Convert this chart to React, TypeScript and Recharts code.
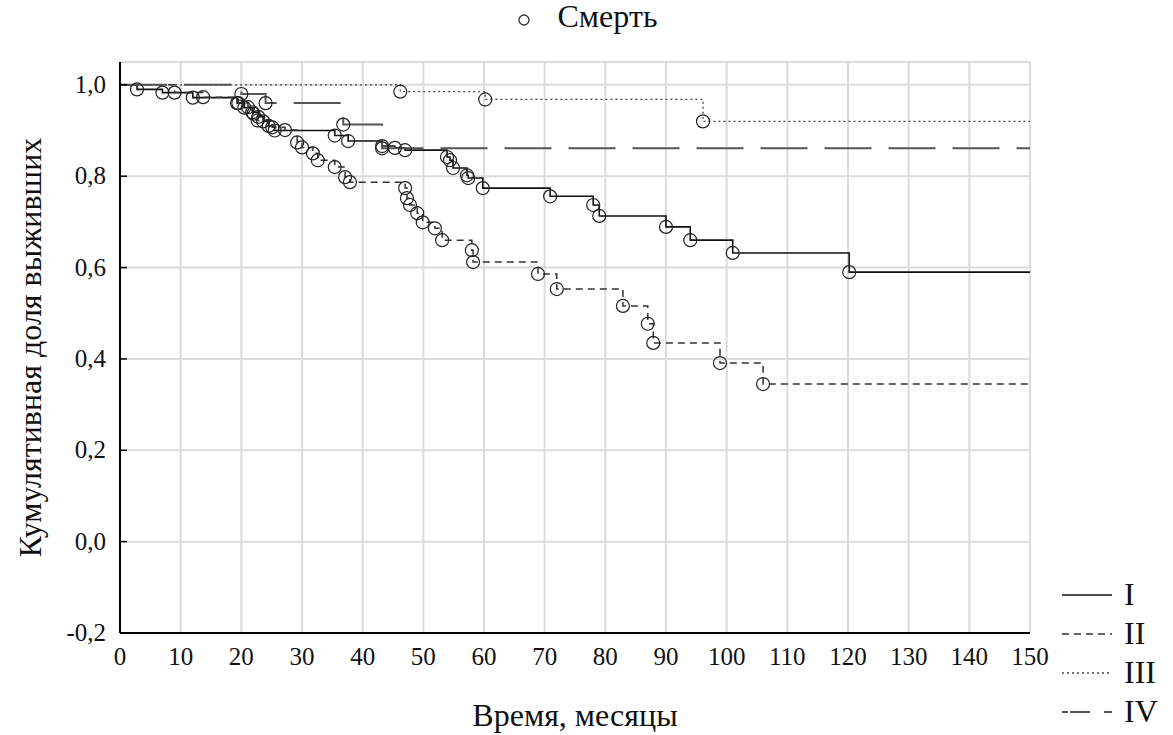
import React from 'react';
import { ComposedChart, Line, Scatter, XAxis, YAxis, CartesianGrid } from 'recharts';

// ---- data (months, cumulative survival) ----
const X_TICKS = [0, 10, 20, 30, 40, 50, 60, 70, 80, 90, 100, 110, 120, 130, 140, 150];
const Y_TICKS = [-0.2, 0, 0.2, 0.4, 0.6, 0.8, 1.0];

const I_T = [2.8, 7, 12, 19.3, 20.5, 21.8, 22.8, 23.6, 24.5, 25.5, 35.4, 37.6, 43.2, 45.3, 47, 53.9, 54.4, 54.9, 57.2, 57.4, 59.8, 70.9, 78, 79, 90, 94, 101, 120.2];
const I_S = [0.99, 0.983, 0.972, 0.96, 0.95, 0.94, 0.93, 0.92, 0.91, 0.9, 0.889, 0.877, 0.866, 0.862, 0.857, 0.842, 0.835, 0.818, 0.802, 0.796, 0.774, 0.756, 0.737, 0.713, 0.689, 0.66, 0.632, 0.59];

const II_T = [9, 13.7, 19.5, 21.1, 22, 22.7, 25.1, 27.2, 29.2, 30, 31.8, 32.6, 35.4, 37.1, 37.9, 47, 47.3, 47.8, 49, 49.9, 51.9, 53.1, 58, 58.2, 68.9, 72, 82.9, 87, 87.9, 98.9, 106];
const II_S = [0.983, 0.973, 0.96, 0.951, 0.937, 0.922, 0.907, 0.901, 0.874, 0.863, 0.85, 0.835, 0.82, 0.798, 0.787, 0.774, 0.752, 0.737, 0.719, 0.699, 0.686, 0.66, 0.638, 0.612, 0.586, 0.553, 0.516, 0.477, 0.435, 0.391, 0.345];

const III_T = [46.2, 60.2, 96.1];
const III_S = [0.985, 0.968, 0.92];

const IV_T = [20, 24, 36.8, 43.2];
const IV_S = [0.98, 0.96, 0.913, 0.861];

const SERIES_NAMES = ['I', 'II', 'III', 'IV'];
const DEATH_LABEL = 'Смерть';
const X_TITLE = 'Время, месяцы';
const Y_TITLE = 'Кумулятивная доля выживших';

const X_MAX = 150;

function steps(t: number[], s: number[]) {
  const pts = [{ x: 0, y: 1 }];
  t.forEach((ti, i) => pts.push({ x: ti, y: s[i] }));
  pts.push({ x: X_MAX, y: s[s.length - 1] });
  return pts;
}
function events(t: number[], s: number[]) {
  return t.map((ti, i) => ({ x: ti, y: s[i] }));
}

const dataI = steps(I_T, I_S);
const dataII = steps(II_T, II_S);
const dataIII = steps(III_T, III_S);
const dataIV = steps(IV_T, IV_S);
const deaths = [
  ...events(I_T, I_S),
  ...events(II_T, II_S),
  ...events(III_T, III_S),
  ...events(IV_T, IV_S),
];

const FONT = "'Liberation Serif', 'DejaVu Serif', serif";
const fmt = (v: number) => v.toFixed(1).replace('.', ',');

const STYLES = [
  { stroke: '#111', dash: undefined as string | undefined, width: 1.6 },
  { stroke: '#333', dash: '7 5', width: 1.5 },
  { stroke: '#444', dash: '2 3', width: 1.3 },
  { stroke: '#555', dash: '47 17', width: 2 },
];

const YTick = (props: any) => {
  const { x, y, payload } = props;
  return (
    <g>
      <line x1={x + 14} x2={x + 21} y1={y} y2={y} stroke="#000" strokeWidth={1.5} />
      <text x={x} y={y + 8} textAnchor="end" style={{ fontFamily: FONT }} fontSize={25} fill="#111">
        {fmt(payload.value)}
      </text>
    </g>
  );
};

const XTick = (props: any) => {
  const { x, y, payload } = props;
  return (
    <text x={x} y={y + 8} textAnchor="middle" style={{ fontFamily: FONT }} fontSize={25} fill="#111">
      {payload.value}
    </text>
  );
};

const Marker = (props: any) => {
  const { cx, cy } = props;
  return <circle cx={cx} cy={cy} r={6.5} fill="none" stroke="#222" strokeWidth={1.2} />;
};

export default function App() {
  return (
    <div style={{ position: 'absolute', left: 0, top: 0, width: 1173, height: 735, background: '#fff', fontFamily: FONT }}>
      <ComposedChart width={1173} height={735} margin={{ top: 62, right: 143, bottom: 0, left: 0 }}>
        <CartesianGrid stroke="#dcdcdc" strokeWidth={2} />
        <XAxis
          type="number"
          dataKey="x"
          domain={[0, X_MAX]}
          ticks={X_TICKS}
          allowDataOverflow
          height={102}
          tickSize={0}
          tickMargin={24}
          axisLine={{ stroke: '#000', strokeWidth: 2 }}
          tick={<XTick />}
          label={(p: any) => {
            const vb = p.viewBox;
            return (
              <text x={vb.x + vb.width / 2} y={vb.y + 93} textAnchor="middle" style={{ fontFamily: FONT }} fontSize={32} fill="#111">
                {X_TITLE}
              </text>
            );
          }}
        />
        <XAxis xAxisId="top" type="number" orientation="top" domain={[0, X_MAX]} height={0} tick={false} tickLine={false} axisLine={{ stroke: '#000', strokeWidth: 2 }} />
        <YAxis
          type="number"
          domain={[-0.2, 1.05]}
          ticks={Y_TICKS}
          allowDataOverflow
          width={120}
          tickSize={0}
          tickMargin={14}
          axisLine={{ stroke: '#000', strokeWidth: 2 }}
          tick={<YTick />}
          label={(p: any) => {
            const vb = p.viewBox;
            const cx = vb.x + 30;
            const cy = vb.y + vb.height / 2;
            return (
              <text x={cx} y={cy} transform={`rotate(-90 ${cx} ${cy})`} textAnchor="middle" dominantBaseline="central" style={{ fontFamily: FONT }} fontSize={32} fill="#111">
                {Y_TITLE}
              </text>
            );
          }}
        />
        <YAxis yAxisId="r" orientation="right" domain={[-0.2, 1.05]} width={0} tick={false} tickLine={false} axisLine={{ stroke: '#000', strokeWidth: 2 }} />
        {[dataI, dataII, dataIII, dataIV].map((d, i) => (
          <Line
            key={SERIES_NAMES[i]}
            data={d}
            dataKey="y"
            type="stepAfter"
            stroke={STYLES[i].stroke}
            strokeWidth={STYLES[i].width}
            strokeDasharray={STYLES[i].dash}
            dot={false}
            activeDot={false}
            isAnimationActive={false}
          />
        ))}
        <Scatter data={deaths} dataKey="y" shape={<Marker />} isAnimationActive={false} />
      </ComposedChart>

      {/* top legend */}
      <div style={{ position: 'absolute', left: 0, top: -2, width: 1173, display: 'flex', justifyContent: 'center', alignItems: 'center', fontSize: 32, color: '#111' }}>
        <svg width={40} height={36} style={{ marginLeft: -4 }}>
          <circle cx={12} cy={21} r={5} fill="none" stroke="#333" strokeWidth={1.3} />
        </svg>
        <span style={{ marginLeft: 6 }}>{DEATH_LABEL}</span>
      </div>

      {/* series legend */}
      <div style={{ position: 'absolute', left: 1060, top: 575, fontSize: 32, color: '#111' }}>
        {SERIES_NAMES.map((n, i) => (
          <div key={n} style={{ display: 'flex', alignItems: 'center', height: 39 }}>
            <svg width={56} height={20}>
              <line x1={2} x2={52} y1={10} y2={10} stroke={STYLES[i].stroke} strokeWidth={STYLES[i].width}
                strokeDasharray={i === 3 ? '6 2 20 14 8' : i === 1 ? '7 5' : STYLES[i].dash} />
            </svg>
            <span style={{ marginLeft: 8, lineHeight: '39px' }}>{n}</span>
          </div>
        ))}
      </div>
    </div>
  );
}
